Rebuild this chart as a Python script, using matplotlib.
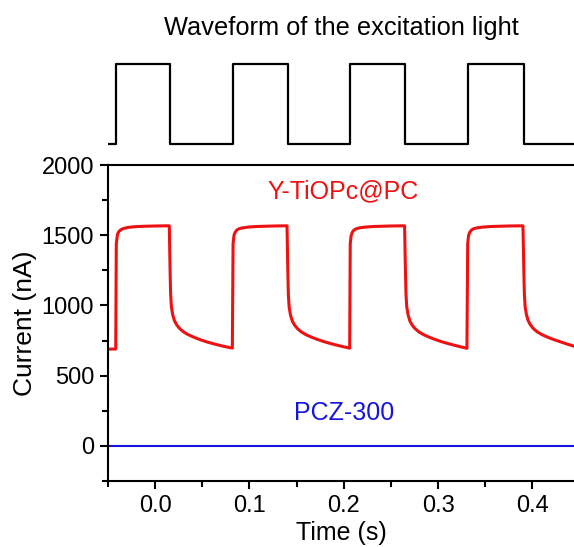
import matplotlib
matplotlib.use('Agg')
from matplotlib import pyplot as plt
from matplotlib.ticker import MultipleLocator

plt.rcParams['font.family'] = ['Liberation Sans', 'DejaVu Sans']

# excitation light: switching times (s) and on/off level
light_t = [-0.0488, -0.0414, 0.0155, 0.0824, 0.1403, 0.2065, 0.2651, 0.3312, 0.3906, 0.4450]
light_on = [0, 1, 0, 1, 0, 1, 0, 1, 0, 0]

# Y-TiOPc@PC photocurrent (s, nA)
time_s = [
    -0.0496, -0.0418, -0.0412, -0.0400, -0.0385, -0.0360, -0.0330, -0.0290, -0.0247, -0.0180, -0.0106, 0.0020, 0.0150,
    0.0158, 0.0164, 0.0172, 0.0186, 0.0205, 0.0228, 0.0260, 0.0300, 0.0350, 0.0410, 0.0470, 0.0550, 0.0636, 0.0720, 0.0818,
    0.0826, 0.0836, 0.0850, 0.0868, 0.0893, 0.0930, 0.0989, 0.1070, 0.1166, 0.1280, 0.1398,
    0.1406, 0.1412, 0.1420, 0.1434, 0.1453, 0.1476, 0.1508, 0.1548, 0.1598, 0.1658, 0.1720, 0.1800, 0.1885, 0.1970, 0.2062,
    0.2068, 0.2078, 0.2092, 0.2110, 0.2135, 0.2172, 0.2230, 0.2310, 0.2410, 0.2520, 0.2644,
    0.2653, 0.2659, 0.2667, 0.2681, 0.2700, 0.2723, 0.2755, 0.2795, 0.2845, 0.2905, 0.2967, 0.3045, 0.3130, 0.3215, 0.3305,
    0.3313, 0.3323, 0.3337, 0.3355, 0.3380, 0.3417, 0.3475, 0.3555, 0.3655, 0.3765, 0.3899,
    0.3908, 0.3914, 0.3922, 0.3936, 0.3955, 0.3978, 0.4010, 0.4050, 0.4100, 0.4160, 0.4222, 0.4300, 0.4380, 0.4440,
]
current_na = [
    689, 690, 1440, 1505, 1527, 1541, 1549, 1555, 1559, 1562, 1564, 1566, 1567,
    1250, 1080, 990, 934, 890, 862, 835, 812, 792, 774, 758, 740, 724, 710, 696,
    1440, 1500, 1524, 1538, 1547, 1553, 1558, 1562, 1564, 1566, 1567,
    1250, 1080, 990, 934, 890, 862, 835, 812, 792, 774, 758, 740, 724, 710, 696,
    1440, 1500, 1524, 1538, 1547, 1553, 1558, 1562, 1564, 1566, 1567,
    1250, 1080, 990, 934, 890, 862, 835, 812, 792, 774, 758, 740, 724, 709, 695,
    1440, 1500, 1524, 1538, 1547, 1553, 1558, 1562, 1564, 1566, 1567,
    1250, 1080, 990, 934, 890, 862, 835, 812, 792, 774, 758, 740, 722, 710,
]

# PCZ-300 reference (flat at zero)
ref_t = [-0.05, 0.445]
ref_na = [0, 0]

red = '#ee1111'
blue = '#1515dd'

fig = plt.figure(figsize=(5.74, 5.47), dpi=100)

# waveform panel on top
ax_top = fig.add_axes([108 / 574, 1 - 150 / 547, 1 - 108 / 574, 92 / 547])
ax_top.step(light_t, light_on, where='post', color='black', lw=1.6)
ax_top.set_xlim(-0.05, 0.444)
ax_top.set_ylim(-0.075, 1.075)
ax_top.axis('off')
fig.text(341 / 574, 1 - 28 / 547, 'Waveform of the excitation light',
         ha='center', va='center', fontsize=18.3)

# current panel
ax = fig.add_axes([108 / 574, 1 - 481 / 547, 1 - 108 / 574, (481 - 165) / 547])
ax.plot(time_s, current_na, color=red, lw=2.2)
ax.plot(ref_t, ref_na, color=blue, lw=1.5)
ax.set_xlim(-0.05, 0.444)
ax.set_ylim(-250, 2000)

ax.spines['right'].set_visible(False)
for s in ['left', 'bottom', 'top']:
    ax.spines[s].set_linewidth(1.5)

ax.xaxis.set_major_locator(MultipleLocator(0.1))
ax.xaxis.set_minor_locator(MultipleLocator(0.05))
ax.yaxis.set_major_locator(MultipleLocator(500))
ax.yaxis.set_minor_locator(MultipleLocator(250))
ax.xaxis.set_major_formatter(plt.FormatStrFormatter('%.1f'))
ax.tick_params(axis='both', which='major', length=6, width=1.5, labelsize=17, direction='out', pad=4)
ax.tick_params(axis='both', which='minor', length=4, width=1.5, direction='out')
ax.tick_params(top=False, right=False, which='both')

ax.set_xlabel('Time (s)', fontsize=18, labelpad=3)
ax.set_ylabel('Current (nA)', fontsize=19, labelpad=3)

ax.text(0.1995, 1815, 'Y-TiOPc@PC', color=red, fontsize=18, ha='center', va='center')
ax.text(0.2000, 235, 'PCZ-300', color=blue, fontsize=18, ha='center', va='center')

fig.savefig('out.png', dpi=100)
